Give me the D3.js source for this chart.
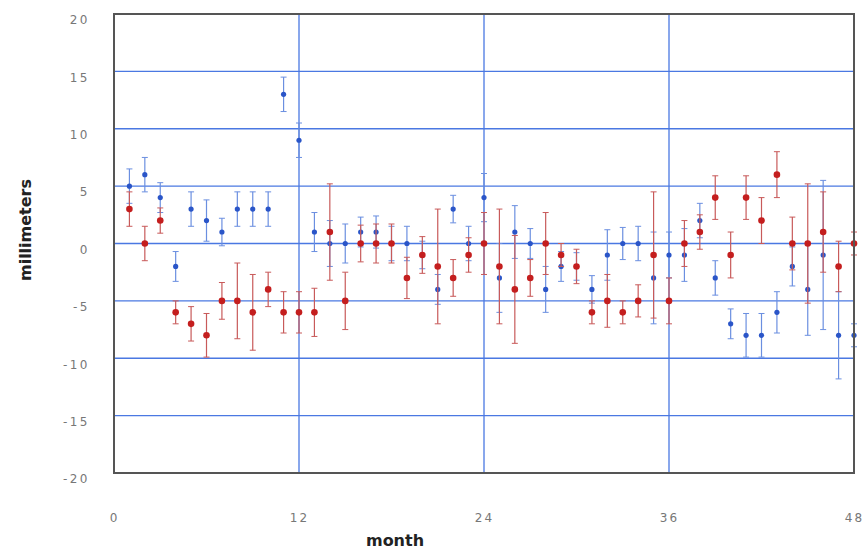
<!DOCTYPE html>
<html>
<head>
<meta charset="utf-8">
<script src="https://cdn.jsdelivr.net/npm/d3@7"></script>
<style>
  body { margin: 0; background: #fff; }
  text { font-family: "DejaVu Sans", sans-serif; }
</style>
</head>
<body>
<div id="chart"></div>
<script>
// month index 1..48
const months = d3.range(1, 49);

// blue series (value, error)
const blueValues = [5, 6, 4, -2, 3, 2, 1, 3, 3, 3, 13, 9, 1, 0, 0, 1, 1, 0, 0, -1, -4, 3, 0, 4,
  -3, 1, 0, -4, -2, -2, -4, -1, 0, 0, -3, -1, -1, 2, -3, -7, -8, -8, -6, -2, -4, -1, -8, -8];
const blueErrors = [1.5, 1.5, 1.3, 1.3, 1.5, 1.8, 1.2, 1.5, 1.5, 1.5, 1.5, 1.5, 1.7, 2, 1.7, 1.3, 1.4, 1.5, 1.5, 1.2, 1.3, 1.2, 1.5, 2.1,
  3, 2.3, 1.3, 2, 1.3, 1.2, 1.2, 2.2, 1.4, 1.5, 4, 2, 2.3, 1.5, 1.5, 1.3, 1.9, 1.9, 1.8, 1.7, 4, 6.5, 3.8, 1];

// red series (value, error)
const redValues = [3, 0, 2, -6, -7, -8, -5, -5, -6, -4, -6, -6, -6, 1, -5, 0, 0, 0, -3, -1, -2, -3, -1, 0,
  -2, -4, -3, 0, -1, -2, -6, -5, -6, -5, -1, -5, 0, 1, 4, -1, 4, 2, 6, 0, 0, 1, -2, 0];
const redErrors = [1.5, 1.5, 1.1, 1, 1.5, 1.9, 1.6, 3.3, 3.3, 1.5, 1.8, 1.8, 2.1, 4.2, 2.5, 1.6, 1.7, 1.7, 1.8, 1.6, 5, 1.6, 1.5, 2.7,
  5, 4.7, 1.6, 2.7, 1, 1.5, 1, 2.3, 1, 1.4, 5.5, 2, 2, 1.5, 1.9, 2, 1.9, 2, 2, 2.3, 5.2, 3.5, 2.2, 1];

const xTicks = [0, 12, 24, 36, 48];
const yTicks = [20, 15, 10, 5, 0, -5, -10, -15, -20];

const width = 865;
const height = 550;
const margin = {top: 14, right: 11, bottom: 77, left: 114};

const xScale = d3.scaleLinear([0, 48], [margin.left, width - margin.right]);
const yScale = d3.scaleLinear([-20, 20], [height - margin.bottom, margin.top]);

const svg = d3.select("#chart").append("svg")
  .attr("width", width)
  .attr("height", height)
  .attr("viewBox", [0, 0, width, height]);

// grid lines
svg.append("g")
  .selectAll("line")
  .data(yTicks.filter(d => d > -20 && d < 20))
  .join("line")
  .attr("x1", margin.left).attr("x2", width - margin.right)
  .attr("y1", d => yScale(d)).attr("y2", d => yScale(d))
  .attr("stroke", "#4a78e2")
  .attr("stroke-width", 1.3);

svg.append("g")
  .selectAll("line")
  .data(xTicks.filter(d => d > 0 && d < 48))
  .join("line")
  .attr("x1", d => xScale(d)).attr("x2", d => xScale(d))
  .attr("y1", margin.top).attr("y2", height - margin.bottom)
  .attr("stroke", "#4a78e2")
  .attr("stroke-width", 1.3);

// axes (tick labels only)
const yAxis = d3.axisLeft(yScale).tickValues(yTicks).tickSize(0).tickPadding(0)
  .tickFormat(d => d < 0 ? "-" + Math.abs(d) : d);
svg.append("g")
  .attr("transform", `translate(${margin.left - 24},6)`)
  .call(yAxis)
  .call(g => g.select(".domain").remove())
  .call(g => g.selectAll("text")
    .attr("fill", "#777")
    .attr("font-size", 12)
    .attr("letter-spacing", "2.5px"));

const xAxis = d3.axisBottom(xScale).tickValues(xTicks).tickSize(0).tickPadding(0);
svg.append("g")
  .attr("transform", `translate(0,${height - margin.bottom + 40})`)
  .call(xAxis)
  .call(g => g.select(".domain").remove())
  .call(g => g.selectAll("text")
    .attr("fill", "#777")
    .attr("font-size", 12)
    .attr("letter-spacing", "2px"));

// error bars + points
function drawSeries(values, errors, barColor, dotColor, r) {
  const g = svg.append("g");
  const idx = d3.range(months.length);
  g.selectAll("line.bar")
    .data(idx)
    .join("line")
    .attr("class", "bar")
    .attr("x1", i => xScale(months[i])).attr("x2", i => xScale(months[i]))
    .attr("y1", i => yScale(values[i] + errors[i]))
    .attr("y2", i => yScale(values[i] - errors[i]))
    .attr("stroke", barColor)
    .attr("stroke-width", 1.2);
  g.selectAll("line.capTop")
    .data(idx)
    .join("line")
    .attr("class", "capTop")
    .attr("x1", i => xScale(months[i]) - 3).attr("x2", i => xScale(months[i]) + 3)
    .attr("y1", i => yScale(values[i] + errors[i]))
    .attr("y2", i => yScale(values[i] + errors[i]))
    .attr("stroke", barColor)
    .attr("stroke-width", 1);
  g.selectAll("line.capBot")
    .data(idx)
    .join("line")
    .attr("class", "capBot")
    .attr("x1", i => xScale(months[i]) - 3).attr("x2", i => xScale(months[i]) + 3)
    .attr("y1", i => yScale(values[i] - errors[i]))
    .attr("y2", i => yScale(values[i] - errors[i]))
    .attr("stroke", barColor)
    .attr("stroke-width", 1);
  return {
    dots: () => g.append("g").selectAll("circle")
      .data(idx)
      .join("circle")
      .attr("cx", i => xScale(months[i]))
      .attr("cy", i => yScale(values[i]))
      .attr("r", r)
      .attr("fill", dotColor)
  };
}

const blue = drawSeries(blueValues, blueErrors, "#6b8fe0", "#2a55c8", 2.6);
const red = drawSeries(redValues, redErrors, "#c85a5a", "#c41e1e", 3.3);
blue.dots();
red.dots();

// frame
svg.append("rect")
  .attr("x", margin.left).attr("y", margin.top)
  .attr("width", width - margin.left - margin.right)
  .attr("height", height - margin.top - margin.bottom)
  .attr("fill", "none")
  .attr("stroke", "#555")
  .attr("stroke-width", 2);

// axis titles
svg.append("text")
  .attr("x", 395).attr("y", 546)
  .attr("text-anchor", "middle")
  .attr("font-size", 16)
  .attr("font-weight", "bold")
  .attr("fill", "#222")
  .text("month");

svg.append("text")
  .attr("transform", "translate(31,230) rotate(-90)")
  .attr("text-anchor", "middle")
  .attr("font-size", 16)
  .attr("font-weight", "bold")
  .attr("fill", "#222")
  .text("millimeters");
</script>
</body>
</html>
